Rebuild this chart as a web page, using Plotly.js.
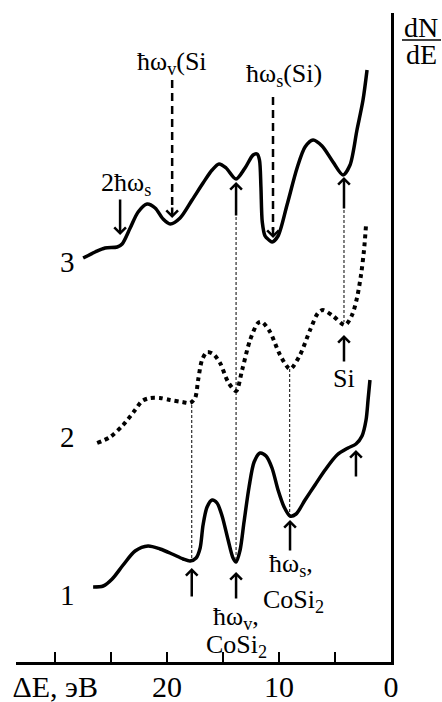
<!DOCTYPE html>
<html>
<head>
<meta charset="utf-8">
<script src="https://cdn.plot.ly/plotly-3.0.1.min.js"></script>
<style>html,body{margin:0;padding:0;background:#fff;}#chart{width:442px;height:702px;}</style>
</head>
<body>
<div id="chart"></div>
<script>
// Energy loss ΔE (eV) and dN/dE (arbitrary units, curves offset vertically)
var e3 = [27.5,26.43,25.54,24.46,24.02,23.30,22.59,21.79,21.07,20.36,19.73,18.84,17.77,16.79,15.98,15.36,14.73,13.84,13.04,12.32,11.96,11.75,11.62,11.50,11.25,10.90,10.63,10.09,9.29,8.39,7.68,6.96,6.16,5.18,4.29,3.66,3.04,2.50,2.14];
var y3 = [40.4,41.0,41.4,41.5,41.8,43.4,45.0,45.8,45.4,44.3,43.8,44.4,46.2,47.9,49.2,49.8,49.4,48.3,49.4,50.7,50.8,50.2,47.5,44.0,42.6,42.2,42.0,42.6,45.7,49.4,51.5,52.2,51.6,50.0,48.7,49.7,53.2,56.2,59.2];

var e2 = [26.25,25.09,23.93,22.86,22.23,21.52,20.63,19.73,18.66,17.95,17.50,17.23,16.88,16.43,15.89,15.27,14.55,13.84,13.30,12.59,11.88,11.52,10.80,9.91,9.02,8.13,7.23,6.52,6.07,5.18,4.11,3.48,3.04,2.68,2.41,2.23];
var y2 = [21.9,22.5,23.7,25.2,26.1,26.4,26.4,26.2,26.0,25.9,26.4,28.2,30.2,31.0,30.8,29.9,28.0,27.1,29.2,32.2,33.9,34.0,33.0,30.7,29.3,30.7,33.2,34.9,35.2,34.6,33.7,34.7,36.4,38.7,41.2,43.7];

var e1 = [26.61,25.71,24.91,23.93,22.86,21.70,20.63,19.55,18.57,17.95,17.41,17.05,16.79,16.43,15.98,15.54,15.09,14.55,14.11,13.84,13.48,13.13,12.68,12.23,11.70,11.16,10.63,10.09,9.55,9.02,8.48,7.68,6.79,5.89,4.82,3.84,3.13,2.59,2.23,2.05,1.88];
var y1 = [7.5,7.6,8.3,9.7,11.1,11.6,11.3,10.8,10.3,10.1,10.4,11.4,13.7,15.5,16.2,15.9,14.6,12.2,10.4,10.0,11.2,14.0,17.5,20.0,20.9,20.6,19.4,17.2,15.5,14.6,14.8,16.2,17.7,19.2,20.7,21.4,21.8,22.6,24.2,26.2,28.2];

// axis ticks
var tickVals = [30,25,20,15,10,5,0];
var tickText = ['ΔE, эВ','','20','','10','','0'];

// curve numbers
var curveNames = ['1','2','3'];
var curveNameE = [28.9,28.9,28.9];
var curveNameY = [6.7,22.5,40.0];

// thin dotted drop lines between curves
var dropE   = [17.8,13.84,9.05,4.2];
var dropTop = [25.7,44.5,29.3,45.2];
var dropBot = [10.2,10.0,15.0,34.0];

// solid arrows: tip (E, y), tail y
var arrE    = [13.84,4.2,4.2,17.8,13.84,9.02,3.13];
var arrTipY = [48.0,48.5,32.7,9.4,9.0,14.2,21.2];
var arrTailY= [44.5,45.2,29.9,6.4,6.2,11.0,18.4];

// down arrow 2ħωs
var downE = [24.2], downTipY = [42.7], downTailY = [46.4];

// dashed arrows (Si plasmons)
var dashE = [19.55,10.54], dashTopY = [58.2,56.5], dashTipY = [44.4,42.4];

// labels
var labText = ['2ħω<sub>s</sub>','ħω<sub>v</sub>(Si','ħω<sub>s</sub>(Si)','Si','ħω<sub>v</sub>,','CoSi<sub>2</sub>','ħω<sub>s</sub>,','CoSi<sub>2</sub>'];
var labE    = [23.66,19.6,9.55,4.2,13.84,13.84,8.9,8.75];
var labY    = [47.8,59.9,58.7,28.4,4.4,1.6,9.7,6.1];

var FONT = '"Liberation Serif", "Times New Roman", serif';

var traces = [
  {x:e1, y:y1, mode:'lines', line:{color:'#000', width:3.5, shape:'spline', smoothing:0.8}, hoverinfo:'skip'},
  {x:e2, y:y2, mode:'lines', line:{color:'#000', width:4, dash:'dot', shape:'spline', smoothing:0.8}, hoverinfo:'skip'},
  {x:e3, y:y3, mode:'lines', line:{color:'#000', width:3.5, shape:'spline', smoothing:0.8}, hoverinfo:'skip'}
];

var shapes = [];
for (var i=0;i<dropE.length;i++){
  shapes.push({type:'line', xref:'x', yref:'y', x0:dropE[i], x1:dropE[i], y0:dropTop[i], y1:dropBot[i], line:{color:'#000', width:1, dash:'3px,2px'}});
}
for (var i=0;i<dashE.length;i++){
  shapes.push({type:'line', xref:'x', yref:'y', x0:dashE[i], x1:dashE[i], y0:dashTopY[i], y1:dashTipY[i]+0.8, line:{color:'#000', width:2.5, dash:'8px,5px'}});
}
// fraction bar of dN/dE
shapes.push({type:'line', xref:'paper', yref:'paper', x0:(402-16)/375, x1:(441-16)/375, y0:(662-40)/649, y1:(662-40)/649, line:{color:'#000', width:1.5}});

var ann = [];
function arrow(xt, yt, ya){
  ann.push({x:xt, y:yt, ax:xt, ay:ya, axref:'x', ayref:'y', xref:'x', yref:'y', text:'', showarrow:true,
    arrowhead:4, arrowsize:0.9, arrowwidth:2.5, arrowcolor:'#000', standoff:0, startstandoff:0});
}
for (var i=0;i<arrE.length;i++) arrow(arrE[i], arrTipY[i], arrTailY[i]);
for (var i=0;i<downE.length;i++) arrow(downE[i], downTipY[i], downTailY[i]);
for (var i=0;i<dashE.length;i++) arrow(dashE[i], dashTipY[i], dashTipY[i]+1.2);

for (var i=0;i<labText.length;i++){
  ann.push({x:labE[i], y:labY[i], xref:'x', yref:'y', text:labText[i], showarrow:false, xanchor:'center', yanchor:'middle', font:{family:FONT, size:26, color:'#000'}});
}
for (var i=0;i<curveNames.length;i++){
  ann.push({x:curveNameE[i], y:curveNameY[i], xref:'x', yref:'y', text:curveNames[i], showarrow:false, xanchor:'center', yanchor:'middle', font:{family:FONT, size:29, color:'#000'}});
}
ann.push({x:(421-16)/375, y:(662-28)/649, xref:'paper', yref:'paper', text:'dN', showarrow:false, xanchor:'center', yanchor:'middle', font:{family:FONT, size:28, color:'#000'}});
ann.push({x:(421-16)/375, y:(662-55)/649, xref:'paper', yref:'paper', text:'dE', showarrow:false, xanchor:'center', yanchor:'middle', font:{family:FONT, size:28, color:'#000'}});

var layout = {
  width:442, height:702,
  margin:{l:16, r:51, t:13, b:40},
  paper_bgcolor:'#fff', plot_bgcolor:'#fff',
  showlegend:false,
  xaxis:{range:[33.5,0], tickvals:tickVals, ticktext:tickText, ticks:'inside', ticklen:10, tickwidth:2.5, tickcolor:'#000',
    showline:true, linewidth:3, linecolor:'#000', showgrid:false, zeroline:false, ticklabelstandoff:-4,
    tickfont:{family:FONT, size:30, color:'#000'}},
  yaxis:{range:[0,64.9], side:'right', showline:true, linewidth:3, linecolor:'#000', showgrid:false, zeroline:false,
    showticklabels:false, ticks:''},
  shapes:shapes,
  annotations:ann
};

Plotly.newPlot('chart', traces, layout, {staticPlot:true});
</script>
</body>
</html>
